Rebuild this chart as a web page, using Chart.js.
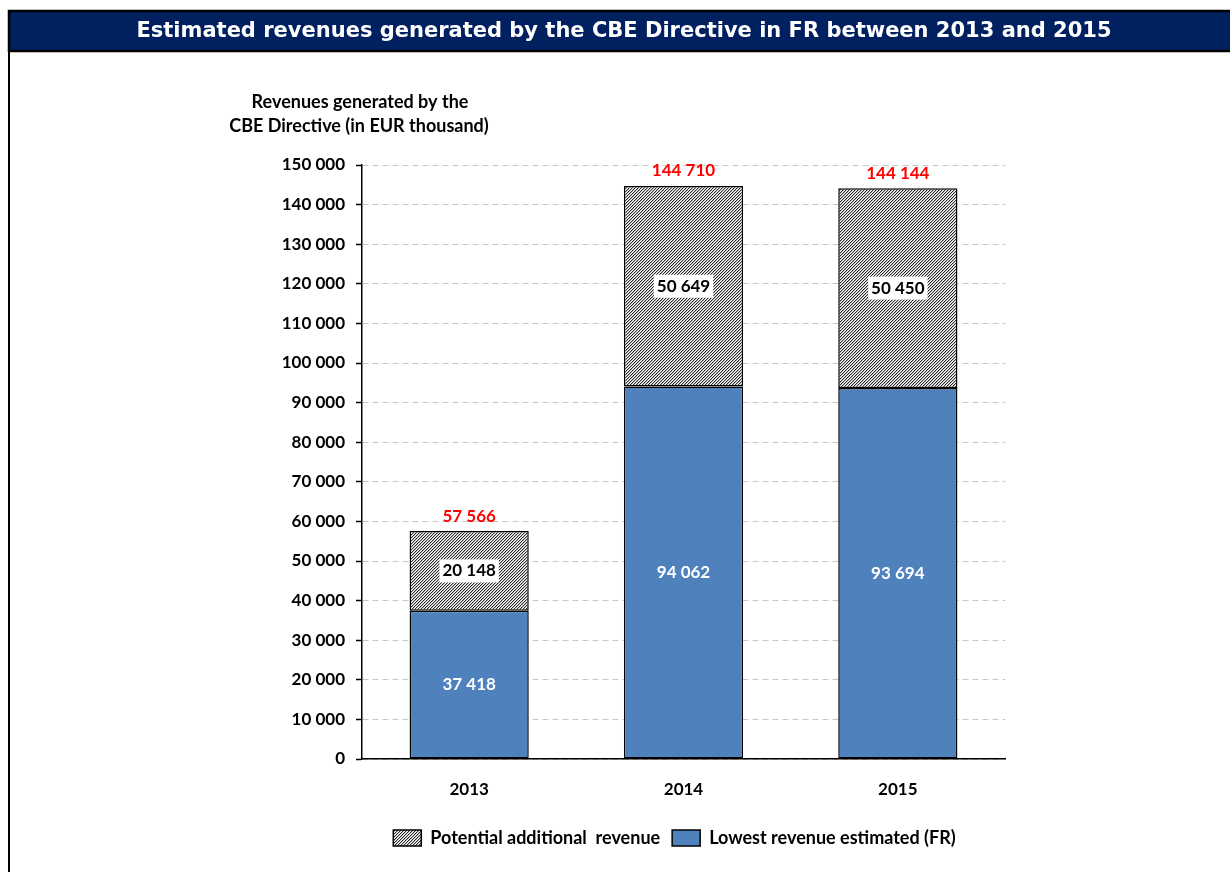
<!DOCTYPE html>
<html>
<head>
<meta charset="utf-8">
<title>CBE Directive revenues FR</title>
<script src="https://cdn.jsdelivr.net/npm/chart.js@4/dist/chart.umd.min.js"></script>
<style>
  html, body { margin: 0; padding: 0; background: #fff; }
  #wrap { position: absolute; left: 0; top: 0; width: 1230px; height: 872px; }
</style>
</head>
<body>
<div id="wrap"><canvas id="revChart" width="1230" height="872"></canvas></div>
<script>
// data
const years = ['2013', '2014', '2015']
const lowestRevenue = [37418, 94062, 93694]
const additionalRevenue = [20148, 50649, 50450]
const totals = [57566, 144710, 144144]
const yTicks = [0, 10000, 20000, 30000, 40000, 50000, 60000, 70000, 80000, 90000, 100000, 110000, 120000, 130000, 140000, 150000]

const titleText = 'Estimated revenues generated by the CBE Directive in FR between 2013 and 2015'
const axisTitle = ['Revenues generated by the', 'CBE Directive (in EUR thousand)']

const labelFont = 'Lato'
const NAVY = '#002060'
const BLUE = '#4f81bd'

// thousands with a space: 150 000
const fmt = v => String(v).replace(/\B(?=(\d{3})+(?!\d))/g, ' ')

// fine diagonal hatch for the potential revenue segment
function makeHatch() {
    const c = document.createElement('canvas')
    c.width = 3
    c.height = 3
    const g = c.getContext('2d')
    g.fillStyle = '#fff'
    g.fillRect(0, 0, 3, 3)
    for (let x = 0; x < 3; x++) {
        for (let y = 0; y < 3; y++) {
            const k = (x + y) % 3
            if (k == 0) { g.fillStyle = '#2a2a2a'; g.fillRect(x, y, 1, 1) }
            if (k == 1) { g.fillStyle = '#b8b8b8'; g.fillRect(x, y, 1, 1) }
        }
    }
    return g.createPattern(c, 'repeat')
}
const hatch = makeHatch()

// header bar, frame and the horizontal axis title
const framePlugin = {
    id: 'frame',
    afterLayout(chart) {
        // legend sits a little right of the canvas centre
        chart.legend.left += 41
        chart.legend.right += 41
    },
    beforeDraw(chart) {
        const ctx = chart.ctx
        ctx.save()
        ctx.fillStyle = '#fff'
        ctx.fillRect(0, 0, chart.width, chart.height)

        ctx.fillStyle = NAVY
        ctx.fillRect(9, 11, 1240, 40)
        ctx.strokeStyle = '#000'
        ctx.lineWidth = 2.5
        ctx.strokeRect(9, 11, 1240, 40)
        ctx.beginPath()
        ctx.moveTo(9, 11)
        ctx.lineTo(9, chart.height)
        ctx.lineWidth = 2
        ctx.stroke()

        ctx.fillStyle = '#fff'
        ctx.font = 'bold 21px "DejaVu Sans"'
        ctx.textAlign = 'center'
        ctx.textBaseline = 'middle'
        ctx.fillText(titleText, 624, 32)

        ctx.fillStyle = '#000'
        ctx.font = 'bold 18px ' + labelFont
        ctx.fillText(axisTitle[0], 360, 102)
        ctx.fillText(axisTitle[1], 359, 126)
        ctx.restore()
    }
}

// value labels on the segments and totals above the stacks
const labelPlugin = {
    id: 'barLabels',
    afterDatasetsDraw(chart) {
        const ctx = chart.ctx
        const yScale = chart.scales.y
        ctx.save()
        ctx.font = 'bold 17px ' + labelFont
        ctx.textAlign = 'center'
        ctx.textBaseline = 'middle'

        chart.getDatasetMeta(0).data.forEach((bar, i) => {
            ctx.fillStyle = '#fff'
            ctx.fillText(fmt(lowestRevenue[i]), bar.x, (bar.y + bar.base) / 2)
        })

        chart.getDatasetMeta(1).data.forEach((bar, i) => {
            const txt = fmt(additionalRevenue[i])
            const cy = (bar.y + bar.base) / 2
            const w = ctx.measureText(txt).width + 6
            ctx.fillStyle = '#fff'
            ctx.fillRect(bar.x - w / 2, cy - 11.5, w, 23)
            ctx.fillStyle = '#000'
            ctx.fillText(txt, bar.x, cy)
        })

        ctx.fillStyle = '#ff0000'
        totals.forEach((t, i) => {
            const x = chart.scales.x.getPixelForValue(i)
            ctx.fillText(fmt(t), x, yScale.getPixelForValue(t) - 15)
        })
        ctx.restore()
    }
}

const chartData = {
    labels: years,
    datasets: [{
        label: 'Lowest revenue estimated (FR)',
        data: lowestRevenue,
        backgroundColor: BLUE,
        borderColor: '#000',
        borderWidth: 1.5,
        borderSkipped: false
    }, {
        label: 'Potential additional  revenue',
        data: additionalRevenue,
        backgroundColor: hatch,
        borderColor: '#000',
        borderWidth: 1.5,
        borderSkipped: false
    }]
}

const config = {
    type: 'bar',
    data: chartData,
    plugins: [framePlugin, labelPlugin],
    options: {
        responsive: false,
        animation: false,
        devicePixelRatio: 1,
        categoryPercentage: 1,
        barPercentage: 0.556,
        layout: {
            padding: { top: 165, left: 262, right: 225, bottom: 15 }
        },
        plugins: {
            title: { display: false },
            tooltip: { enabled: false },
            legend: {
                position: 'bottom',
                reverse: true,
                labels: {
                    boxWidth: 28,
                    boxHeight: 16,
                    padding: 12,
                    color: '#000',
                    font: { family: labelFont, size: 18, weight: 'bold' }
                }
            }
        },
        scales: {
            x: {
                stacked: true,
                grid: { display: false },
                border: { display: true, color: '#000', width: 1.5 },
                ticks: {
                    color: '#000',
                    padding: 12,
                    font: { family: labelFont, size: 17, weight: 'bold' }
                },
                afterFit: s => { s.height = 58 }
            },
            y: {
                stacked: true,
                min: 0,
                max: 150000,
                afterBuildTicks: s => { s.ticks = yTicks.map(v => ({ value: v })) },
                grid: {
                    color: '#c8c8c8',
                    lineWidth: 1,
                    tickLength: 6,
                    tickColor: '#000',
                    tickWidth: 1.5,
                    tickBorderDash: []
                },
                border: { display: true, color: '#000', width: 1.5, dash: [6, 4] },
                ticks: {
                    color: '#000',
                    padding: 11,
                    font: { family: labelFont, size: 17, weight: 'bold' },
                    callback: v => fmt(v)
                },
                afterFit: s => { s.width = 100 }
            }
        }
    }
}

const revChart = new Chart(document.getElementById('revChart'), config)
</script>
</body>
</html>
